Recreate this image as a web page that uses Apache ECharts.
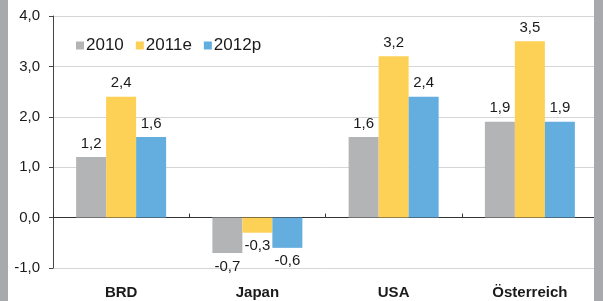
<!DOCTYPE html>
<html><head><meta charset="utf-8">
<script src="https://cdn.jsdelivr.net/npm/echarts@6/dist/echarts.min.js"></script>
<style>html,body{margin:0;padding:0;background:#fff}#c{width:603px;height:301px}</style>
</head><body><div id="c"></div>
<script>
const categories = ['BRD', 'Japan', 'USA', 'Österreich'];
const seriesNames = ['2010', '2011e', '2012p'];
const values2010 = [1.2, -0.7, 1.6, 1.9];
const values2011e = [2.4, -0.3, 3.2, 3.5];
const values2012p = [1.6, -0.6, 2.4, 1.9];
const colors = ['#B3B4B6', '#FDD056', '#63ADDF'];
const fmt = v => v.toFixed(1).replace('.', ',');
const font = 'Liberation Sans, Arial, sans-serif';
const chart = echarts.init(document.getElementById('c'), null, {renderer: 'canvas'});
const mk = (name, data, i) => ({
  name, type: 'bar', barWidth: 30, barGap: '0%', xAxisIndex: 0,
  data: data.map(v => v < 0 ? {value: v, label: {position: 'bottom'}} : v),
  itemStyle: {color: colors[i]},
  label: {show: true, position: 'top', distance: 6, formatter: p => fmt(p.value),
    fontFamily: font, fontSize: 15, color: '#1a1a1a'}
});
chart.setOption({
  animation: false,
  backgroundColor: '#fff',
  color: colors,
  grid: {left: 53, right: 5, top: 16, bottom: 33},
  legend: {
    left: 71, top: 32, icon: 'rect', itemWidth: 8, itemHeight: 8, itemGap: 12,
    textStyle: {fontFamily: font, fontSize: 17, color: '#1a1a1a', padding: [0, 0, 0, -3]},
    data: seriesNames
  },
  xAxis: [{
    type: 'category', data: categories, position: 'bottom',
    axisLine: {show: false, onZero: false}, axisTick: {show: false},
    axisLabel: {margin: 17, fontFamily: font, fontSize: 15, fontWeight: 'bold', color: '#1a1a1a'}
  }, {
    type: 'category', data: categories,
    axisLine: {show: true, onZero: true, lineStyle: {color: '#333', width: 1}},
    axisTick: {show: true, length: 4, lineStyle: {color: '#333'}},
    axisLabel: {show: false}
  }],
  yAxis: {
    type: 'value', min: -1, max: 4, interval: 1,
    axisLine: {show: true, lineStyle: {color: '#444'}},
    axisTick: {show: true, length: 4, lineStyle: {color: '#444'}},
    axisLabel: {formatter: v => fmt(v), margin: 13, fontFamily: font, fontSize: 15, color: '#1a1a1a'},
    splitLine: {lineStyle: {color: '#D6D6D6'}}
  },
  graphic: [
    {type: 'rect', left: 0, top: 0, shape: {width: 8, height: 301}, style: {fill: '#A8A9AC'}, z: 100},
    {type: 'rect', left: 594, top: 0, shape: {width: 9, height: 301}, style: {fill: '#A8A9AC'}, z: 100}
  ],
  series: [mk(seriesNames[0], values2010, 0), mk(seriesNames[1], values2011e, 1), mk(seriesNames[2], values2012p, 2)]
});
</script></body></html>
